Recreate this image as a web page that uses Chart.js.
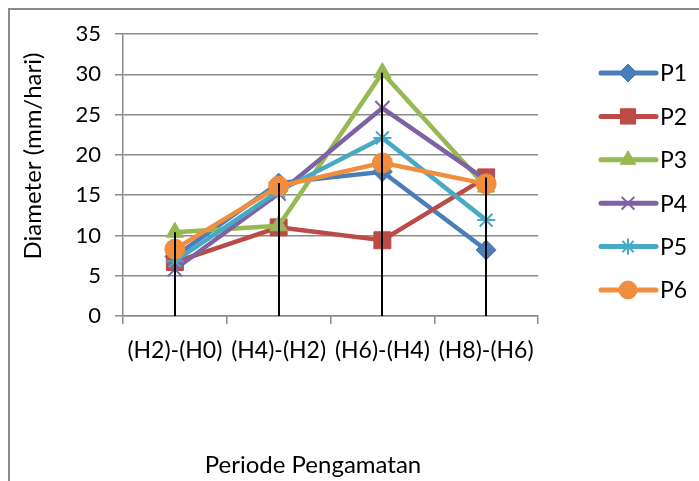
<!DOCTYPE html>
<html>
<head>
<meta charset="utf-8">
<script src="https://cdn.jsdelivr.net/npm/chart.js@4.4.1/dist/chart.umd.min.js"></script>
<style>
  html, body { margin: 0; padding: 0; background: #fff; }
  #wrap { position: relative; width: 699px; height: 481px; overflow: hidden; }
  #frame { position: absolute; left: 8px; top: 8px; width: 700px; height: 500px; border-left: 2px solid #8a8a8a; border-top: 2px solid #8a8a8a; box-sizing: border-box; pointer-events: none; }
  canvas { position: absolute; left: 0; top: 0; }
</style>
</head>
<body>
<div id="wrap">
  <canvas id="c" width="699" height="481"></canvas>
  <div id="frame"></div>
</div>
<script>
const categories = ['(H2)-(H0)', '(H4)-(H2)', '(H6)-(H4)', '(H8)-(H6)'];
const seriesNames = ['P1', 'P2', 'P3', 'P4', 'P5', 'P6'];
const p1 = [7.4, 16.5, 17.9, 8.2];
const p2 = [6.7, 11.0, 9.4, 17.2];
const p3 = [10.4, 11.2, 30.2, 16.0];
const p4 = [5.8, 15.2, 25.8, 16.9];
const p5 = [6.8, 15.5, 22.1, 11.9];
const p6 = [8.3, 16.1, 19.0, 16.4];
const yMin = 0, yMax = 35, yStep = 5;
const xTitle = 'Periode Pengamatan';
const yTitle = 'Diameter (mm/hari)';

const seriesValues = [p1, p2, p3, p4, p5, p6];
const colors = ['#4A7DBA', '#BC4A47', '#97B853', '#7E62A1', '#48A9C4', '#F08D3E'];
const styles = ['rectRot', 'rect', 'triangle', 'crossRot', 'star', 'circle'];
const radii = [10, 12, 10, 10, 9, 10];
const FONT = 'Lato, "Open Sans", sans-serif';

const datasets = seriesNames.map((n, i) => ({
  label: n,
  data: seriesValues[i],
  borderColor: colors[i],
  backgroundColor: colors[i],
  pointBackgroundColor: colors[i],
  pointBorderColor: colors[i],
  pointStyle: styles[i],
  pointRadius: radii[i],
  pointBorderWidth: (styles[i] === 'crossRot' || styles[i] === 'star') ? 2 : 1,
  borderWidth: 4.5,
  tension: 0,
  order: seriesNames.length - 1 - i
}));

function drawMarker(ctx, style, r, x, y, color, bw) {
  const opts = { pointStyle: style, radius: r, rotation: 0, borderWidth: bw };
  ctx.save();
  ctx.fillStyle = color; ctx.strokeStyle = color; ctx.lineWidth = bw;
  if (Chart.helpers && Chart.helpers.drawPoint) {
    Chart.helpers.drawPoint(ctx, opts, x, y);
  }
  ctx.restore();
}

const extras = {
  id: 'extras',
  afterDatasetsDraw(chart) {
    const ctx = chart.ctx;
    const xs = chart.scales.x, ys = chart.scales.y;
    ctx.save();
    ctx.strokeStyle = '#000';
    ctx.lineWidth = 2;
    categories.forEach((c, ci) => {
      const maxV = Math.max(...seriesValues.map(s => s[ci]));
      const x = Math.round(xs.getPixelForValue(ci));
      ctx.beginPath();
      ctx.moveTo(x, ys.getPixelForValue(maxV));
      ctx.lineTo(x, ys.getPixelForValue(0));
      ctx.stroke();
    });
    ctx.restore();
  },
  afterDraw(chart) {
    const ctx = chart.ctx;
    ctx.save();
    ctx.fillStyle = '#000';
    ctx.textAlign = 'center';
    ctx.textBaseline = 'middle';
    ctx.font = '24px ' + FONT;
    ctx.fillText(xTitle, 313, 465);
    ctx.save();
    ctx.translate(33, 156);
    ctx.rotate(-Math.PI / 2);
    ctx.font = '24px ' + FONT;
    ctx.fillText(yTitle, 0, 0);
    ctx.restore();
    ctx.textAlign = 'left';
    ctx.font = '23px ' + FONT;
    seriesNames.forEach((n, i) => {
      const y = 73 + i * 43.4;
      ctx.save();
      ctx.strokeStyle = colors[i];
      ctx.lineWidth = 5;
      ctx.lineCap = 'round';
      ctx.beginPath();
      ctx.moveTo(601, y); ctx.lineTo(656, y);
      ctx.stroke();
      ctx.restore();
      drawMarker(ctx, styles[i], radii[i] * 0.9, 628, y, colors[i], datasets[i].pointBorderWidth);
      ctx.fillStyle = '#000';
      ctx.fillText(n, 660, y + 1);
    });
    ctx.restore();
  }
};

new Chart(document.getElementById('c'), {
  type: 'line',
  data: { labels: categories, datasets },
  options: {
    responsive: false,
    animation: false,
    devicePixelRatio: 1,
    layout: { padding: { left: 0, top: 34, right: 161, bottom: 0 } },
    plugins: { legend: { display: false }, tooltip: { enabled: false }, title: { display: false } },
    scales: {
      x: {
        type: 'category',
        offset: true,
        grid: { display: true, offset: true, drawOnChartArea: false, drawTicks: true, tickLength: 8, color: '#8a8a8a', lineWidth: 1.5 },
        border: { display: true, color: '#8a8a8a', width: 1.5 },
        ticks: { color: '#000', font: { family: FONT, size: 23 }, padding: 13, maxRotation: 0, autoSkip: false },
        afterFit(scale) { scale.height = 481 - 316; }
      },
      y: {
        min: yMin, max: yMax,
        grid: { color: '#8a8a8a', lineWidth: 1.5, drawTicks: true, tickLength: 8 },
        border: { display: true, color: '#8a8a8a', width: 1.5 },
        ticks: { stepSize: yStep, color: '#000', font: { family: FONT, size: 22 }, padding: 14 },
        afterFit(scale) { scale.width = 123; }
      }
    }
  },
  plugins: [extras]
});
</script>
</body>
</html>
